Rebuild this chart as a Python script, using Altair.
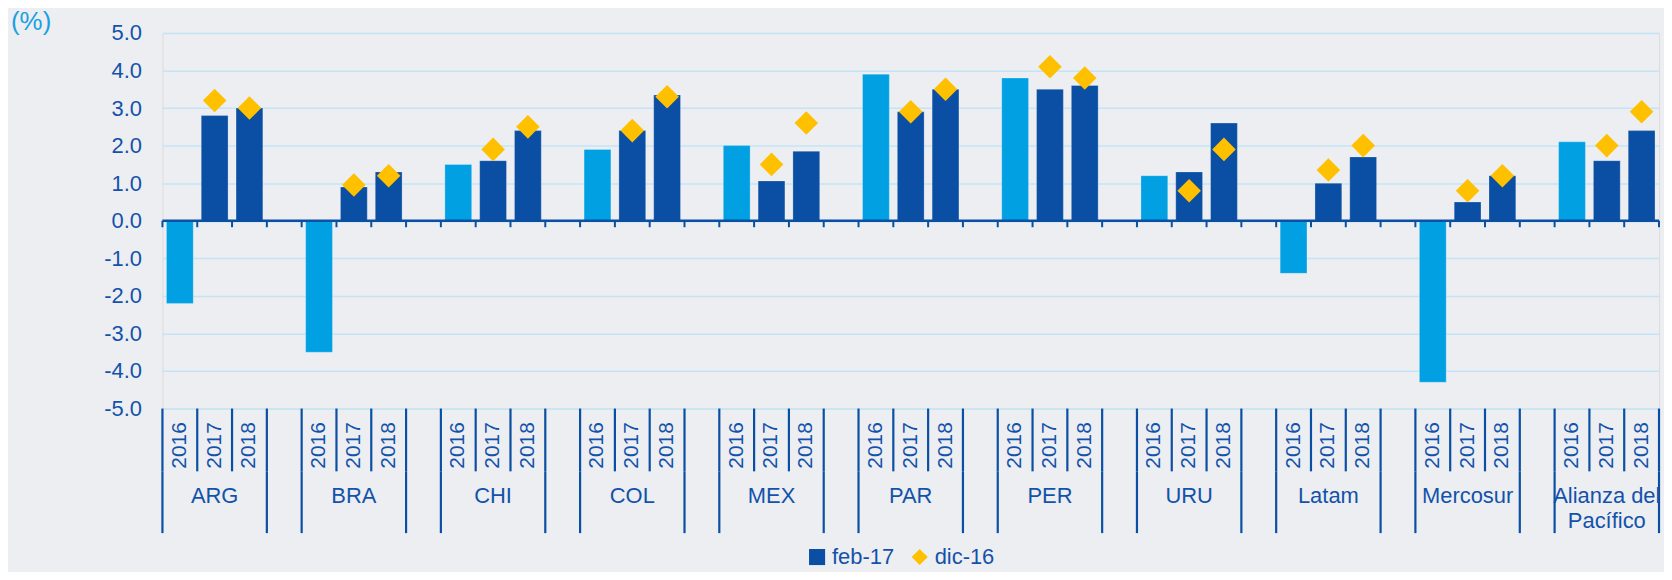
import altair as alt
import pandas as pd

# ---------------- data ----------------
groups = ["ARG", "BRA", "CHI", "COL", "MEX", "PAR", "PER", "URU",
          "Latam", "Mercosur", "Alianza del Pacífico"]
group_labels = ["ARG", "BRA", "CHI", "COL", "MEX", "PAR", "PER", "URU",
                "Latam", "Mercosur", "Alianza del\nPacífico"]
years = ["2016", "2017", "2018"]

feb17_2016 = [-2.2, -3.5, 1.5, 1.9, 2.0, 3.9, 3.8, 1.2, -1.4, -4.3, 2.1]
feb17_2017 = [2.8, 0.9, 1.6, 2.4, 1.06, 2.9, 3.5, 1.3, 1.0, 0.5, 1.6]
feb17_2018 = [3.0, 1.3, 2.4, 3.35, 1.85, 3.5, 3.6, 2.6, 1.7, 1.2, 2.4]
dic16_2017 = [3.2, 0.95, 1.9, 2.4, 1.5, 2.9, 4.1, 0.8, 1.35, 0.8, 2.0]
dic16_2018 = [3.0, 1.2, 2.5, 3.3, 2.6, 3.5, 3.8, 1.9, 2.0, 1.2, 2.9]

y_ticks = [-5, -4, -3, -2, -1, 0, 1, 2, 3, 4, 5]
series_names = ["feb-17", "dic-16"]

# ---------------- styles ----------------
DARK = "#0A4FA3"
LIGHT = "#00A0E3"
GOLD = "#FFC000"
TEXT = "#1352AA"
GRID = "#C3E4F6"
BG = "#ECEEF1"
FONT = "Liberation Sans"

SLOTS_PER_GROUP = 4
n_slots = len(groups) * SLOTS_PER_GROUP - 1
xscale = alt.Scale(domain=[0, n_slots], nice=False, zero=False)
yscale = alt.Scale(domain=[-5, 5], nice=False)
yaxis = alt.Axis(values=y_ticks, title=None, domain=False, ticks=False,
                 grid=True, gridColor=GRID, gridWidth=1.5,
                 labelFontSize=22, labelColor=TEXT, labelFont=FONT,
                 labelPadding=21,
                 labelExpr="replace(format(datum.value, '.1f'), '\u2212', '-')")

# ---------------- tables ----------------
feb = [feb17_2016, feb17_2017, feb17_2018]
bar_rows, pt_rows, year_rows = [], [], []
for g, grp in enumerate(groups):
    for i, yr in enumerate(years):
        slot = g * SLOTS_PER_GROUP + i
        bar_rows.append({"group": grp, "year": yr, "slot": slot,
                         "x0": slot + 0.115, "x1": slot + 0.885,
                         "value": feb[i][g], "zero": 0.0,
                         "fill": LIGHT if i == 0 else DARK})
        year_rows.append({"year": yr, "xc": slot + 0.5})
    pt_rows.append({"group": grp, "series": "dic-16", "xc": g * 4 + 1.5, "value": dic16_2017[g]})
    pt_rows.append({"group": grp, "series": "dic-16", "xc": g * 4 + 2.5, "value": dic16_2018[g]})

bars_df = pd.DataFrame(bar_rows)
pts_df = pd.DataFrame(pt_rows)
years_df = pd.DataFrame(year_rows)
ticks_df = pd.DataFrame({"b": list(range(n_slots + 1)), "z": 0.0})
zero_df = pd.DataFrame({"a": [0], "b": [n_slots], "z": [0.0]})
grp_df = pd.DataFrame({"label": group_labels,
                       "xc": [g * 4 + 1.5 for g in range(len(groups))]})
ydiv_df = pd.DataFrame({"b": [g * 4 + k for g in range(len(groups)) for k in range(4)]})
gdiv_df = pd.DataFrame({"b": [g * 4 + k for g in range(len(groups)) for k in (0, 3)]})

# ---------------- layers ----------------
bars = alt.Chart(bars_df).mark_bar(stroke="white", strokeOpacity=0.25, strokeWidth=1).encode(
    x=alt.X("x0:Q", scale=xscale, axis=None),
    x2="x1:Q",
    y=alt.Y("value:Q", scale=yscale, axis=yaxis),
    y2="zero:Q",
    fill=alt.Fill("fill:N", scale=None),
)

zero_line = alt.Chart(zero_df).mark_rule(color=DARK, strokeWidth=2.5).encode(
    x=alt.X("a:Q", scale=xscale, axis=None), x2="b:Q",
    y=alt.Y("z:Q", scale=yscale, axis=yaxis),
)

ticks = alt.Chart(ticks_df).mark_rule(color=DARK, strokeWidth=2).encode(
    x=alt.X("b:Q", scale=xscale, axis=None),
    y=alt.Y("z:Q", scale=yscale, axis=yaxis),
    y2=alt.value(195),
)

year_div = alt.Chart(ydiv_df).mark_rule(color=DARK, strokeWidth=2.2).encode(
    x=alt.X("b:Q", scale=xscale, axis=None),
    y=alt.value(377), y2=alt.value(440),
)
grp_div = alt.Chart(gdiv_df).mark_rule(color=DARK, strokeWidth=2.2).encode(
    x=alt.X("b:Q", scale=xscale, axis=None),
    y=alt.value(440), y2=alt.value(502),
)

year_text = alt.Chart(years_df).mark_text(
    angle=270, align="center", baseline="middle", fontSize=21, font=FONT, color=TEXT
).encode(
    x=alt.X("xc:Q", scale=xscale, axis=None),
    y=alt.value(414),
    text="year:N",
)

grp_text = alt.Chart(grp_df).mark_text(
    align="center", baseline="alphabetic", fontSize=22, font=FONT, color=TEXT,
    lineBreak="\n", lineHeight=25
).encode(
    x=alt.X("xc:Q", scale=xscale, axis=None),
    y=alt.value(472),
    text="label:N",
)

leg = alt.Legend(orient="none", legendX=646, legendY=515,
                 direction="horizontal", title=None,
                 labelFontSize=22, labelColor=TEXT, labelFont=FONT,
                 symbolSize=260, labelOffset=4, columnPadding=14,
                 symbolStrokeWidth=0, padding=0)

points = alt.Chart(pts_df).mark_point(filled=True, size=560, opacity=1).encode(
    x=alt.X("xc:Q", scale=xscale, axis=None),
    y=alt.Y("value:Q", scale=yscale, axis=yaxis),
    color=alt.Color("series:N",
                    scale=alt.Scale(domain=series_names, range=[DARK, GOLD]),
                    legend=leg),
    shape=alt.Shape("series:N",
                    scale=alt.Scale(domain=series_names, range=["square", "diamond"]),
                    legend=leg),
)

pct = alt.Chart(pd.DataFrame({"t": ["(%)"]})).mark_text(
    align="left", baseline="middle", fontSize=26, font=FONT, color="#1BA1E2"
).encode(x=alt.value(-152), y=alt.value(-11), text="t:N")

chart = alt.layer(
    bars, zero_line, ticks, year_div, grp_div, year_text, grp_text, points, pct
).properties(
    width=1502, height=377,
    autosize=alt.AutoSizeParams(type="none"),
    padding={"left": 155, "top": 24, "right": 5, "bottom": 163},
    background=BG,
).configure_view(strokeWidth=0, stroke="transparent").configure(font=FONT)

chart.save("out.html", embed_options={"renderer": "svg", "actions": False})
